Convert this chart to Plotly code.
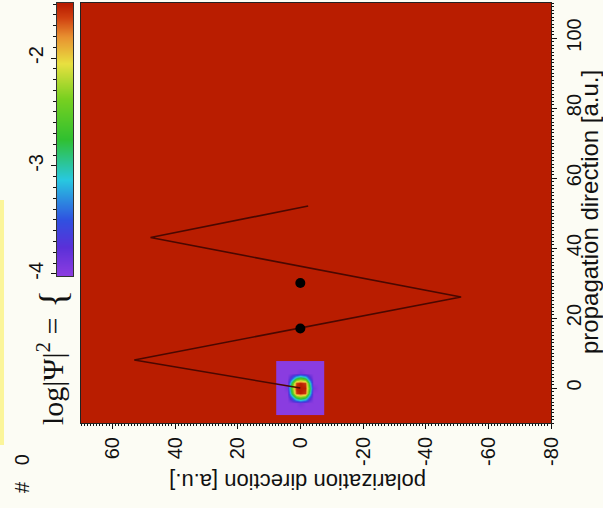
import plotly.graph_objects as go

W, H = 603, 508

# Trajectory of the packet centre (polarization, propagation)
path_pol = [0.0, 53.0, -51.3, 47.8, -2.5]
path_prop = [0.0, 8.0, 26.0, 43.0, 52.0]

# Marked positions along the propagation axis
dot_pol = [0.0, 0.0]
dot_prop = [17.0, 30.0]

# Wave-packet density, log scale, on a small grid around the origin
grid_pol = [-7.0, -5.6, -4.2, -2.8, -1.4, 0.0, 1.4, 2.8, 4.2, 5.6, 7.0]
grid_prop = [-7.0, -5.6, -4.2, -2.8, -1.4, 0.0, 1.4, 2.8, 4.2, 5.6, 7.0]
log_psi = [
    [-4, -4, -4, -4, -4, -4, -4, -4, -4, -4, -4],
    [-4, -4, -4, -4, -4, -4, -4, -4, -4, -4, -4],
    [-4, -4, -4, -4, -4, -3.9, -4, -4, -4, -4, -4],
    [-4, -4, -4, -3.6, -2.85, -2.6, -2.85, -3.6, -4, -4, -4],
    [-4, -4, -4, -2.85, -1.6, -1.5, -1.6, -2.85, -4, -4, -4],
    [-4, -4, -3.9, -2.6, -1.5, -1.5, -1.5, -2.6, -3.9, -4, -4],
    [-4, -4, -4, -2.85, -1.6, -1.5, -1.6, -2.85, -4, -4, -4],
    [-4, -4, -4, -3.6, -2.85, -2.6, -2.85, -3.6, -4, -4, -4],
    [-4, -4, -4, -4, -4, -3.9, -4, -4, -4, -4, -4],
    [-4, -4, -4, -4, -4, -4, -4, -4, -4, -4, -4],
    [-4, -4, -4, -4, -4, -4, -4, -4, -4, -4, -4],
]

# Colour bar levels
bar_levels = [-4.0, -3.75, -3.5, -3.25, -3.0, -2.75, -2.5, -2.25, -2.0, -1.75, -1.5]
bar_ticks = [-4, -3, -2]

pol_ticks = [60, 40, 20, 0, -20, -40, -60, -80]
prop_ticks = [0, 20, 40, 60, 80, 100]

zmin, zmax = -4.0, -1.5
scale = [
    [0.0, "#8a3ce0"], [0.1, "#5a30d8"], [0.2, "#3050e0"], [0.35, "#28c8e0"],
    [0.5, "#30c030"], [0.65, "#78d020"], [0.78, "#e8e040"], [0.88, "#e89030"],
    [0.95, "#d04010"], [1.0, "#b81c00"],
]
field_red = "#b91d00"
ink = "#111111"
font_sans = "Liberation Sans, Arial, sans-serif"
font_serif = "Liberation Serif, Times New Roman, serif"


def px_x(p):
    return p / W


def px_y(p):
    return 1 - p / H


fig = go.Figure()

fig.add_trace(go.Heatmap(
    x=grid_pol, y=grid_prop, z=log_psi, zmin=zmin, zmax=zmax,
    colorscale=scale, zsmooth="best", showscale=False, hoverinfo="skip",
))
fig.add_trace(go.Scatter(
    x=path_pol, y=path_prop, mode="lines",
    line=dict(color="#4a0800", width=1.6), hoverinfo="skip", showlegend=False,
))
fig.add_trace(go.Scatter(
    x=dot_pol, y=dot_prop, mode="markers",
    marker=dict(color="#000000", size=10), hoverinfo="skip", showlegend=False,
))

# Colour bar drawn as its own small heatmap
fig.add_trace(go.Heatmap(
    x=[0, 1], y=bar_levels, z=[[v, v] for v in bar_levels], zmin=zmin, zmax=zmax,
    colorscale=scale, zsmooth="best", showscale=False, hoverinfo="skip",
    xaxis="x2", yaxis="y2",
))

tickfont = dict(family=font_sans, size=20, color=ink)

fig.update_layout(
    width=W, height=H,
    margin=dict(l=0, r=0, t=0, b=0, autoexpand=False),
    paper_bgcolor="#fcfcf4",
    plot_bgcolor=field_red,
    showlegend=False,
    xaxis=dict(
        domain=[px_x(81), px_x(551)], range=[70, -80], automargin=False,
        tickvals=pol_ticks, ticktext=[str(v) for v in pol_ticks],
        tickangle=-90, tickfont=tickfont,
        ticks="outside", ticklen=5, tickcolor=ink,
        minor=dict(dtick=1, ticks="outside", ticklen=2, tickcolor=ink),
        showgrid=False, zeroline=False,
        showline=True, mirror=True, linecolor="#222222", linewidth=1,
        anchor="y",
    ),
    yaxis=dict(
        domain=[px_y(423), px_y(3)], range=[-10, 110], side="right", automargin=False,
        tickvals=prop_ticks, ticktext=[str(v) for v in prop_ticks],
        tickangle=-90, tickfont=tickfont,
        ticks="outside", ticklen=5, tickcolor=ink,
        minor=dict(dtick=1, ticks="outside", ticklen=2, tickcolor=ink),
        showgrid=False, zeroline=False,
        showline=True, mirror=True, linecolor="#222222", linewidth=1,
        anchor="x",
    ),
    xaxis2=dict(
        domain=[px_x(57), px_x(73)], range=[0, 1], automargin=False,
        showticklabels=False, ticks="", showgrid=False, zeroline=False,
        showline=True, mirror=True, linecolor="#333333", linewidth=1,
        anchor="y2",
    ),
    yaxis2=dict(
        domain=[px_y(276), px_y(3)], range=[-4.02, -1.49], side="left", automargin=False,
        tickvals=bar_ticks, ticktext=[str(v) for v in bar_ticks],
        tickangle=-90, tickfont=tickfont,
        ticks="outside", ticklen=5, tickcolor=ink,
        minor=dict(dtick=0.1, ticks="outside", ticklen=3, tickcolor=ink),
        showgrid=False, zeroline=False,
        showline=True, mirror=True, linecolor="#333333", linewidth=1,
        anchor="x2",
    ),
)

# Pale strip along the left edge
fig.add_shape(
    type="rect", xref="paper", yref="paper",
    x0=0, x1=px_x(4), y0=px_y(445), y1=px_y(200),
    fillcolor="#fbf59a", line=dict(width=0), layer="below",
)

fig.add_annotation(
    text="polarization direction [a.u.]", textangle=180,
    xref="paper", yref="paper", x=px_x(298), y=px_y(482),
    xanchor="center", yanchor="middle", showarrow=False,
    font=dict(family=font_sans, size=22, color=ink),
)
fig.add_annotation(
    text="propagation direction [a.u.]", textangle=-90,
    xref="paper", yref="paper", x=px_x(590), y=px_y(212),
    xanchor="center", yanchor="middle", showarrow=False,
    font=dict(family=font_sans, size=24, color=ink),
)
fig.add_annotation(
    text="log|\u03a8|<sup>2</sup> =", textangle=-90,
    xref="paper", yref="paper", x=px_x(50), y=px_y(372),
    xanchor="center", yanchor="middle", showarrow=False,
    font=dict(family=font_serif, size=30, color=ink),
)
fig.add_annotation(
    text="{", textangle=-90,
    xref="paper", yref="paper", x=px_x(53), y=px_y(299),
    xanchor="center", yanchor="middle", showarrow=False,
    font=dict(family=font_serif, size=38, color=ink),
)
fig.add_annotation(
    text="#   0", textangle=-90,
    xref="paper", yref="paper", x=px_x(22), y=px_y(474),
    xanchor="center", yanchor="middle", showarrow=False,
    font=dict(family=font_sans, size=20, color=ink),
)

fig.write_html("out.html")
